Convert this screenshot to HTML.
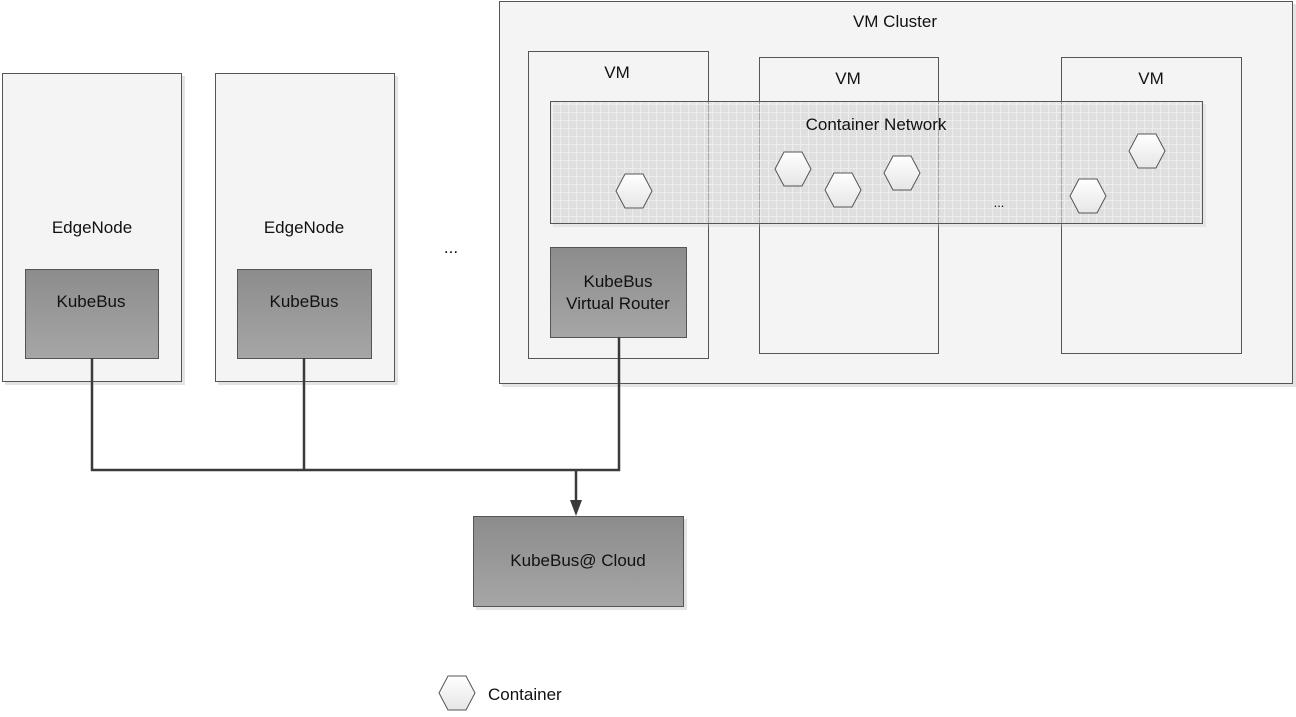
<!DOCTYPE html>
<html><head><meta charset="utf-8"><style>
html,body{margin:0;padding:0;background:#fff;width:1296px;height:717px;overflow:hidden}
svg text{font-family:"Liberation Sans",sans-serif;font-size:17px;fill:#111}
</style></head><body>
<svg width="1296" height="717" viewBox="0 0 1296 717" xmlns="http://www.w3.org/2000/svg">
<defs>
<linearGradient id="g" x1="0" y1="0" x2="0" y2="1"><stop offset="0" stop-color="#8c8c8c"/><stop offset="1" stop-color="#a6a6a6"/></linearGradient>
<linearGradient id="h" x1="0" y1="0" x2="0" y2="1"><stop offset="0" stop-color="#fff"/><stop offset="1" stop-color="#e6e6e6"/></linearGradient>
<pattern id="grid" width="8" height="8" patternUnits="userSpaceOnUse">
<rect width="8" height="8" fill="rgba(215,215,215,0.5)"/>
<path d="M0 0.5H8M0.5 0V8" stroke="rgba(255,255,255,0.45)" stroke-width="1"/>
</pattern>
<g id="hex"><polygon points="-9,-17 9,-17 18,0 9,17 -9,17 -18,0" fill="url(#h)" stroke="#555" stroke-width="1"/></g>
</defs>
<g stroke="#555" stroke-width="1">
<g fill="#e4e4e4" stroke="none">
<rect x="5" y="76" width="180" height="309"/><rect x="218" y="76" width="180" height="309"/>
<rect x="502" y="4" width="794" height="383"/>
<rect x="28" y="272" width="134" height="90"/><rect x="240" y="272" width="134" height="90"/>
<rect x="553" y="250" width="137" height="91"/><rect x="476" y="519" width="211" height="91"/>
</g>
<rect x="2.5" y="73.5" width="179" height="308" fill="#f4f4f4"/>
<rect x="215.5" y="73.5" width="179" height="308" fill="#f4f4f4"/>
<rect x="499.5" y="1.5" width="793" height="382" fill="#f4f4f4"/>
<rect x="528.5" y="51.5" width="180" height="307" fill="#f4f4f4"/>
<rect x="759.5" y="57.5" width="179" height="296" fill="#f4f4f4"/>
<rect x="1061.5" y="57.5" width="180" height="296" fill="#f4f4f4"/>
<rect x="553" y="104" width="653" height="123" fill="rgba(200,200,200,0.3)" stroke="none"/>
<rect x="550.5" y="101.5" width="652" height="122" fill="url(#grid)"/>
<rect x="25.5" y="269.5" width="133" height="89" fill="url(#g)"/>
<rect x="237.5" y="269.5" width="134" height="89" fill="url(#g)"/>
<rect x="550.5" y="247.5" width="136" height="90" fill="url(#g)"/>
<rect x="473.5" y="516.5" width="210" height="90" fill="url(#g)"/>
</g>
<g fill="none" stroke="#3a3a3a" stroke-width="2.5">
<path d="M92 358V470H619V337M304 358V470M576 470V503"/>
</g>
<polygon points="570,500 582,500 576,516" fill="#3a3a3a"/>
<use href="#hex" x="634" y="191"/><use href="#hex" x="793" y="169"/><use href="#hex" x="843" y="190"/>
<use href="#hex" x="902" y="173"/><use href="#hex" x="1147" y="151"/><use href="#hex" x="1088" y="196"/>
<use href="#hex" x="457" y="693"/>
<g text-anchor="middle">
<text x="895" y="27">VM Cluster</text>
<text x="617" y="78">VM</text><text x="848" y="84">VM</text><text x="1151" y="84">VM</text>
<text x="876" y="130">Container Network</text>
<text x="92" y="233">EdgeNode</text><text x="304" y="233">EdgeNode</text>
<text x="91" y="307">KubeBus</text><text x="304" y="307">KubeBus</text>
<text x="618" y="287">KubeBus</text><text x="618" y="309">Virtual Router</text>
<text x="578" y="566">KubeBus@ Cloud</text>
<text x="451" y="253">...</text><text x="999" y="207" style="font-size:13px">...</text>
</g>
<text x="488" y="700">Container</text>
</svg>
</body></html>
